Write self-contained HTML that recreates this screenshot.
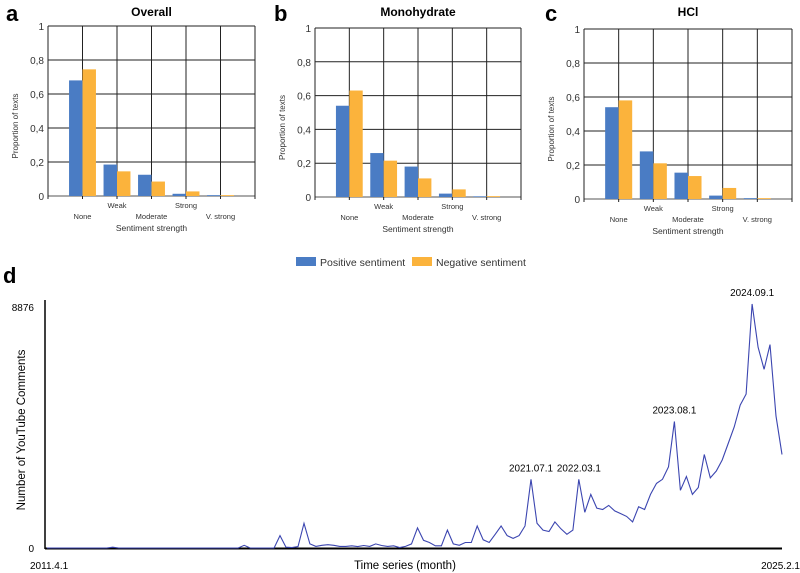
<!DOCTYPE html>
<html><head><meta charset="utf-8"><style>
html,body{margin:0;padding:0;background:#fff;}
svg{display:block;font-family:"Liberation Sans",sans-serif;}
</style></head><body>
<svg id="fig" width="800" height="573" viewBox="0 0 800 573"></svg>
<script>
const categories = ["None","Weak","Moderate","Strong","V. strong"];
const overallPos = [0.68,0.185,0.125,0.013,0.005];
const overallNeg = [0.745,0.145,0.085,0.027,0.005];
const monoPos = [0.54,0.26,0.18,0.02,0.004];
const monoNeg = [0.63,0.215,0.11,0.045,0.005];
const hclPos = [0.54,0.28,0.155,0.02,0.005];
const hclNeg = [0.58,0.21,0.135,0.065,0.005];
const yTicks = ["0","0,2","0,4","0,6","0,8","1"];
const comments = [0,0,0,0,0,0,0,0,0,0,0,30,0,0,0,0,0,0,0,0,0,0,0,0,0,0,0,0,0,0,0,0,0,100,0,0,0,0,0,450,30,20,50,900,150,60,100,120,100,60,60,80,50,90,60,150,90,60,80,20,60,150,730,280,200,80,80,650,150,100,200,200,800,300,200,500,800,450,350,450,800,2500,900,650,600,950,700,500,650,2500,1300,1950,1450,1400,1550,1350,1250,1150,950,1500,1400,1950,2350,2500,2950,4600,2100,2600,1950,2200,3400,2550,2800,3200,3800,4400,5200,5600,8876,7300,6500,7400,4800,3400];
const annotations = [{i:81,t:"2021.07.1"},{i:89,t:"2022.03.1"},{i:105,t:"2023.08.1"},{i:118,t:"2024.09.1"}];
const NS="http://www.w3.org/2000/svg";
const svg=document.getElementById('fig');
function mk(tag,attrs,parent,text){const e=document.createElementNS(NS,tag);for(const k in attrs)e.setAttribute(k,attrs[k]);if(text!==undefined)e.textContent=text;(parent||svg).appendChild(e);return e;}
const BLUE="#4a7cc4",ORANGE="#fbb33c";
function panel(L,R,T,B,pos,neg,title,letter,lx,name){
  const g=mk('g',{});
  
  
  const yS=v=>B-v*(B-T);
  const cw=(R-L)/6;
  for(let k=0;k<=5;k++){const y=yS(k/5);const l=mk('line',{x1:L,x2:R,y1:y,y2:y,stroke:k==0?'#555':'#222','stroke-width':1},g);
    const t=mk('text',{x:L-4,y:y+4,'font-size':10,'text-anchor':'end',fill:'#333'},g,yTicks[k]);}
  for(let k=0;k<=6;k++){const x=L+k*cw;const l=mk('line',{x1:x,x2:x,y1:T,y2:B+3,stroke:'#222','stroke-width':1},g);}
  const bw=cw*0.39;
  categories.forEach((c,i)=>{const cx=L+(i+1)*cw;
    const b1=mk('rect',{x:cx-bw,y:yS(pos[i]),width:bw,height:B-yS(pos[i]),fill:BLUE},g);
    const b2=mk('rect',{x:cx,y:yS(neg[i]),width:bw,height:B-yS(neg[i]),fill:ORANGE},g);
    const t=mk('text',{x:cx,y:B+(i%2?12:23),'font-size':7.5,'text-anchor':'middle',fill:'#333'},g,c);
  });
  const xt=mk('text',{x:(L+R)/2,y:B+35,'font-size':8.5,'text-anchor':'middle',fill:'#333'},g,'Sentiment strength');
  const yt=mk('text',{x:0,y:0,'font-size':8,'text-anchor':'middle',fill:'#333',transform:`translate(${L-30},${(T+B)/2+15}) rotate(-90)`},g,'Proportion of texts');
  const tt=mk('text',{x:(L+R)/2,y:16,'font-size':12,'font-weight':'bold','text-anchor':'middle',fill:'#000'},g,title);
  const pl=mk('text',{x:lx,y:21,'font-size':22,'font-weight':'bold',fill:'#000'},g,letter);
}
panel(48,255,26,196,overallPos,overallNeg,'Overall','a',6,'panel-overall');
panel(315,521,28,197,monoPos,monoNeg,'Monohydrate','b',274,'panel-monohydrate');
panel(584,792,29,199,hclPos,hclNeg,'HCl','c',545,'panel-hcl');
// legend
const lg=mk('g',{});
let r=mk('rect',{x:296,y:257,width:20,height:9,fill:BLUE},lg);
let t=mk('text',{x:320,y:266,'font-size':10.5,fill:'#333'},lg,'Positive sentiment');
r=mk('rect',{x:412,y:257,width:20,height:9,fill:ORANGE},lg);
t=mk('text',{x:436,y:266,'font-size':10.5,fill:'#333'},lg,'Negative sentiment');
// panel d
const dL=47,dR=782,dT=304,dB=548,dMax=8876;
const xS=i=>dL+i*(dR-dL)/(comments.length-1);
const yS2=v=>dB-v/dMax*(dB-dT);
t=mk('text',{x:3,y:283,'font-size':22,'font-weight':'bold',fill:'#000'},svg,'d');
let ax=mk('line',{x1:45,x2:45,y1:300,y2:549,stroke:'#000','stroke-width':1.5});
ax=mk('line',{x1:45,x2:782,y1:548.5,y2:548.5,stroke:'#000','stroke-width':2});
const pts=comments.map((v,i)=>xS(i).toFixed(1)+','+yS2(v).toFixed(1)).join(' ');
const ln=mk('polyline',{points:pts,fill:'none',stroke:'#3b45b0','stroke-width':1.1});
annotations.forEach(a=>{const e=mk('text',{x:xS(a.i),y:yS2(comments[a.i])-8,'font-size':10.5,'text-anchor':'middle',textLength:44,lengthAdjust:'spacingAndGlyphs',fill:'#000'},svg,a.t);});
t=mk('text',{x:34,y:311,'font-size':10,'text-anchor':'end',fill:'#000'},svg,'8876');
t=mk('text',{x:34,y:552,'font-size':10,'text-anchor':'end',fill:'#000'},svg,'0');
t=mk('text',{x:0,y:0,'font-size':11.5,'text-anchor':'middle',fill:'#000',transform:'translate(25,430) rotate(-90)'},svg,'Number of YouTube Comments');
t=mk('text',{x:30,y:569,'font-size':10,fill:'#000'},svg,'2011.4.1');
t=mk('text',{x:405,y:569,'font-size':11.5,'text-anchor':'middle',fill:'#000'},svg,'Time series (month)');
t=mk('text',{x:800,y:569,'font-size':10,'text-anchor':'end',fill:'#000'},svg,'2025.2.1');
</script>
</body></html>
